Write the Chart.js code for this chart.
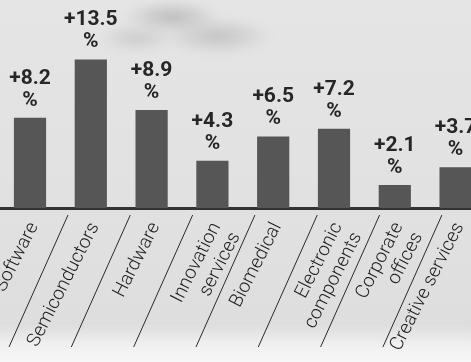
<!DOCTYPE html>
<html>
<head>
<meta charset="utf-8">
<script src="https://cdn.jsdelivr.net/npm/chart.js@4.4.1/dist/chart.umd.min.js"></script>
<style>
  html, body { margin: 0; padding: 0; }
  body {
    width: 471px; height: 362px; overflow: hidden; position: relative;
    background: linear-gradient(to bottom, #e5e5e5 0px, #e1e1e1 200px, #dedede 325px, #f0f0f0 345px, #f7f7f7 362px);
  }
  #cloud {
    position: absolute; left: 102px; top: 0px; width: 170px; height: 65px;
    background:
      radial-gradient(ellipse 48px 17px at 70px 17px, rgba(185,185,185,0.9), rgba(185,185,185,0) 100%),
      radial-gradient(ellipse 55px 19px at 115px 36px, rgba(190,190,190,0.85), rgba(190,190,190,0) 100%),
      radial-gradient(ellipse 40px 15px at 35px 38px, rgba(195,195,195,0.7), rgba(195,195,195,0) 100%);
    filter: blur(3px);
  }
  #wrap { position: absolute; left: -7px; top: 0; width: 493px; height: 362px; }
</style>
</head>
<body>
<div id="cloud"></div>
<div id="wrap"><canvas id="myChart"></canvas></div>
<script>
// categories (multi-line labels as arrays)
const categories = [
  'Software',
  'Semiconductors',
  'Hardware',
  ['Innovation', 'services'],
  'Biomedical',
  ['Electronic', 'components'],
  ['Corporate', 'offices'],
  'Creative services'
];
// growth, percent
const growth = [8.2, 13.5, 8.9, 4.3, 6.5, 7.2, 2.1, 3.7];

const ctx = document.getElementById('myChart').getContext('2d');

// value labels above each bar: "+8.2" then "%"
const valueLabels = {
  id: 'valueLabels',
  afterDatasetsDraw(chart) {
    const c = chart.ctx;
    const meta = chart.getDatasetMeta(0);
    c.save();
    c.fillStyle = '#262626';
    c.font = 'bold 21px Roboto, sans-serif';
    c.textAlign = 'center';
    c.textBaseline = 'alphabetic';
    meta.data.forEach((bar, i) => {
      c.fillText('+' + growth[i], bar.x, bar.y - 34);
      c.fillText('%', bar.x, bar.y - 12);
    });
    c.restore();
  }
};

// slanted separators between category labels
const separators = {
  id: 'separators',
  afterDraw(chart) {
    const xs = chart.scales.x;
    const c = chart.ctx;
    const y0 = chart.chartArea.bottom + 7;
    c.save();
    c.strokeStyle = '#2a2a2a';
    c.lineWidth = 1;
    for (let i = 1; i < categories.length; i++) {
      // slightly wider spacing than the bars, as in the original layout
      const x0 = xs.getPixelForValue(i * 1.025 - 0.4);
      c.beginPath();
      c.moveTo(x0, y0);
      c.lineTo(x0 - 59, y0 + 132);
      c.stroke();
    }
    c.restore();
  }
};

new Chart(ctx, {
  type: 'bar',
  data: {
    labels: categories,
    datasets: [{
      data: growth,
      backgroundColor: '#565656',
      borderWidth: 0,
      categoryPercentage: 1,
      barPercentage: 0.53
    }]
  },
  options: {
    responsive: true,
    maintainAspectRatio: false,
    animation: false,
    layout: { padding: 0 },
    plugins: {
      legend: { display: false },
      tooltip: { enabled: false }
    },
    scales: {
      y: {
        display: false,
        min: 0,
        max: 18.9
      },
      x: {
        grid: { display: false },
        border: { display: true, color: '#333333', width: 3 },
        ticks: {
          color: '#1e1e1e',
          font: { family: 'Roboto', size: 19, weight: 300, lineHeight: 1.15 },
          minRotation: 63,
          maxRotation: 63,
          autoSkip: false,
          padding: 3,
          labelOffset: 4
        },
        afterFit: (scale) => { scale.height = 154; }
      }
    }
  },
  plugins: [valueLabels, separators]
});
</script>
</body>
</html>
